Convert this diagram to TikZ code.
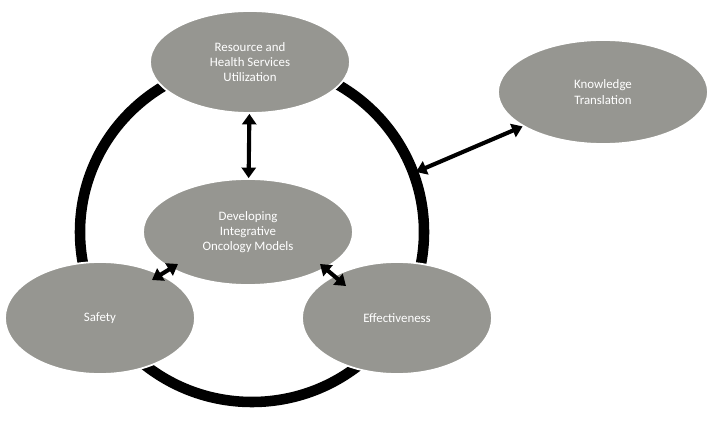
\documentclass[tikz,border=0pt]{standalone}
\usepackage{fontspec}
\setmainfont{Carlito}
\usetikzlibrary{shapes.geometric,arrows.meta}
\definecolor{eg}{RGB}{150,150,145}
\begin{document}
\begin{tikzpicture}[x=0.03cm,y=-0.03cm,
  el/.style={ellipse,fill=eg,draw=white,line width=1.5pt,text=white,align=center,font=\fontsize{11}{13}\selectfont,inner sep=0pt},
  ar/.style={line width=3.5pt,{Triangle[length=9pt,width=12pt]}-{Triangle[length=9pt,width=12pt]}}]
\useasboundingbox (0,0) rectangle (711,431);
\draw[line width=9pt] (252,232) circle[x radius=172,y radius=-170];
\node[el,minimum width=200\pgflinewidth,minimum width=6cm,minimum height=3cm] (top) at (250,62) [minimum width=200*0.03cm,minimum height=102*0.03cm] {Resource and\\Health Services\\Utilization};
\node[el,minimum width=210*0.03cm,minimum height=104*0.03cm] (kt) at (603,92) {Knowledge\\Translation};
\node[el,minimum width=210*0.03cm,minimum height=106*0.03cm] (c) at (248,232) {Developing\\Integrative\\Oncology Models};
\node[el,minimum width=190*0.03cm,minimum height=112*0.03cm] (s) at (100,318) {Safety};
\node[el,minimum width=190*0.03cm,minimum height=112*0.03cm] (e) at (397,318) {Effectiveness};
\coordinate (r) at (416,172);
\draw[ar] (top) -- (c);
\draw[ar] (kt) -- (r);
\draw[ar] (152,280) -- (178,264);
\draw[ar] (320,264) -- (346,286);
\end{tikzpicture}
\end{document}
